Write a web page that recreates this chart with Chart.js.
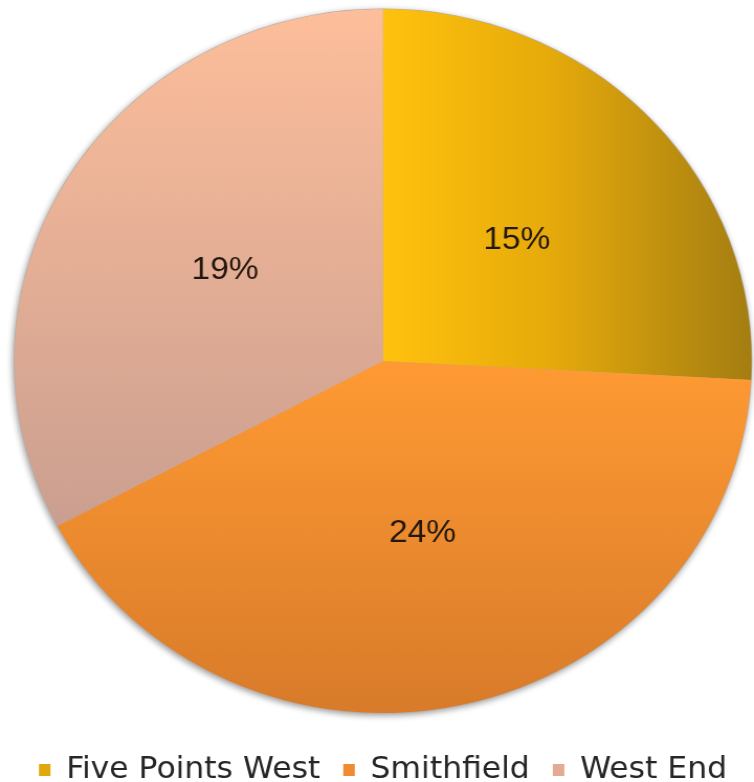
<!DOCTYPE html>
<html>
<head>
<meta charset="utf-8">
<script src="https://cdn.jsdelivr.net/npm/chart.js@4/dist/chart.umd.min.js"></script>
<style>
  html, body { margin: 0; padding: 0; background: #ffffff; overflow: hidden; }
  #wrap { width: 720px; height: 782px; transform: scaleX(1.0472); transform-origin: 0 0; }
  canvas { display: block; }
</style>
</head>
<body>
<div id="wrap"><canvas id="pie" width="720" height="782"></canvas></div>
<script>
// Share of each neighbourhood
const categories = ['Five Points West', 'Smithfield', 'West End'];
const shares = [15, 24, 19];
const valueLabels = ['15%', '24%', '19%'];

// Solid swatch colours for the legend
const legendColors = ['#E0A80C', '#EF8B33', '#E4AA94'];

function sliceFill(ctx) {
  const chart = ctx.chart;
  const area = chart.chartArea;
  if (!area) return '#cccccc';
  const c = chart.ctx;
  const cx = (area.left + area.right) / 2;
  const cy = (area.top + area.bottom) / 2;
  const r = Math.min(area.right - area.left, area.bottom - area.top) / 2;
  let g;
  if (ctx.dataIndex === 0) {
    g = c.createLinearGradient(cx, 0, cx + r, 0);
    g.addColorStop(0, '#FFC20E');
    g.addColorStop(0.45, '#E6AA0B');
    g.addColorStop(1, '#A47E12');
  } else if (ctx.dataIndex === 1) {
    g = c.createLinearGradient(0, cy, 0, cy + r);
    g.addColorStop(0, '#FF9A33');
    g.addColorStop(1, '#D87B2A');
  } else {
    g = c.createLinearGradient(0, cy - r, 0, cy + r * 0.45);
    g.addColorStop(0, '#FDBE9B');
    g.addColorStop(1, '#CB9F90');
  }
  return g;
}

// Soft drop shadow under the whole pie
const pieShadow = {
  id: 'pieShadow',
  beforeDatasetsDraw(chart) {
    const arc = chart.getDatasetMeta(0).data[0];
    if (!arc) return;
    const c = chart.ctx;
    c.save();
    c.shadowColor = 'rgba(0,0,0,0.4)';
    c.shadowBlur = 6;
    c.shadowOffsetX = -1;
    c.shadowOffsetY = 2;
    c.fillStyle = '#b5aca6';
    c.beginPath();
    c.arc(arc.x, arc.y, arc.outerRadius + 0.6, 0, Math.PI * 2);
    c.fill();
    c.restore();
  }
};

// Percentage text in the middle of each slice
const sliceLabels = {
  id: 'sliceLabels',
  afterDatasetsDraw(chart) {
    const c = chart.ctx;
    const meta = chart.getDatasetMeta(0);
    c.save();
    c.font = '32px "Liberation Sans", Arial, sans-serif';
    c.fillStyle = '#24170F';
    c.textAlign = 'center';
    c.textBaseline = 'middle';
    meta.data.forEach((arc, i) => {
      const p = arc.tooltipPosition();
      c.fillText(valueLabels[i], p.x, p.y);
    });
    c.restore();
  }
};

new Chart(document.getElementById('pie'), {
  type: 'pie',
  data: {
    labels: categories,
    datasets: [{
      data: shares,
      backgroundColor: sliceFill,
      borderWidth: 0,
      hoverOffset: 0
    }]
  },
  options: {
    responsive: false,
    animation: false,
    events: [],
    layout: { padding: { top: 9, left: 11.4, right: 0, bottom: 0 } },
    plugins: {
      tooltip: { enabled: false },
      legend: {
        position: 'bottom',
        maxHeight: 69,
        title: {
          display: true,
          text: ' ',
          font: { size: 20, lineHeight: 1 },
          padding: 0
        },
        labels: {
          font: { family: '"DejaVu Sans", sans-serif', size: 30 },
          color: '#262626',
          boxWidth: 11,
          boxHeight: 12,
          padding: 22,
          generateLabels(chart) {
            const items = Chart.overrides.pie.plugins.legend.labels.generateLabels(chart);
            items.forEach((it, i) => {
              it.fillStyle = legendColors[i];
              it.strokeStyle = legendColors[i];
              it.lineWidth = 0;
            });
            return items;
          }
        }
      }
    }
  },
  plugins: [pieShadow, sliceLabels]
});
</script>
</body>
</html>
